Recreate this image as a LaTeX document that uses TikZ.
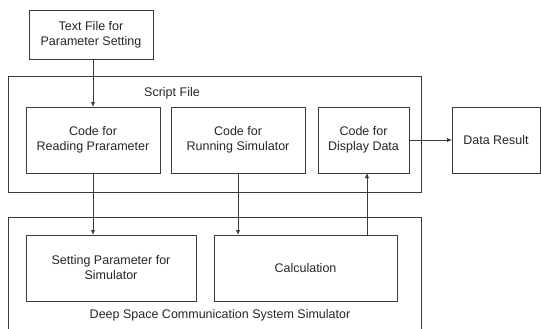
\documentclass[tikz,border=0pt]{standalone}
\usepackage{fontspec}
\setmainfont{Liberation Sans}
\usetikzlibrary{arrows.meta}
\definecolor{ln}{HTML}{3A3A3A}
\definecolor{tx}{HTML}{262626}
\begin{document}
\begin{tikzpicture}[x=1pt,y=-1pt,
  box/.style={draw=ln,line width=0.9pt,rectangle,inner sep=0pt,outer sep=0pt,align=center,text=tx,
    font=\fontsize{12.5}{15}\selectfont},
  lbl/.style={text=tx,inner sep=0pt,font=\fontsize{12.5}{15}\selectfont},
  arr/.style={draw=ln,line width=0.9pt,-{Latex[length=5pt,width=4.5pt]}}]
\clip (0,0) rectangle (541,329);
\fill[white] (0,0) rectangle (541,329);
% containers
\node[box,minimum width=413pt,minimum height=116pt] (script) at (214.5,134) {};
\node[lbl] (scriptlbl) at (172,93) {Script File};
\node[box,minimum width=413pt,minimum height=130pt] (sim) at (214.5,282) {};
\node[lbl] (simlbl) at (220,315) {Deep Space Communication System Simulator};
% boxes
\node[box,minimum width=124pt,minimum height=49pt] (tf) at (91,34.5) {Text File for\\Parameter Setting};
\node[box,minimum width=134pt,minimum height=66pt] (read) at (93,140) {Code for\\Reading Prarameter};
\node[box,minimum width=134pt,minimum height=66pt] (run) at (238,140) {Code for\\Running Simulator};
\node[box,minimum width=91pt,minimum height=66pt] (disp) at (363.5,140) {Code for\\Display Data};
\node[box,minimum width=88pt,minimum height=66pt] (dr) at (496,140) {Data Result};
\node[box,minimum width=170pt,minimum height=66pt] (setp) at (111,268) {Setting Parameter for\\Simulator};
\node[box,minimum width=183pt,minimum height=66pt] (calc) at (305.5,268) {Calculation};
% connectors
\draw[arr] (read.north |- tf.south) -- (read.north);
\draw[arr] (read.south) -- (read.south |- setp.north);
\draw[arr] (run.south) -- (run.south |- calc.north);
\draw[arr] ([xshift=3.5pt]disp.south |- calc.north) -- ([xshift=3.5pt]disp.south);
\draw[arr] (disp.east) -- (dr.west);
\end{tikzpicture}
\end{document}
